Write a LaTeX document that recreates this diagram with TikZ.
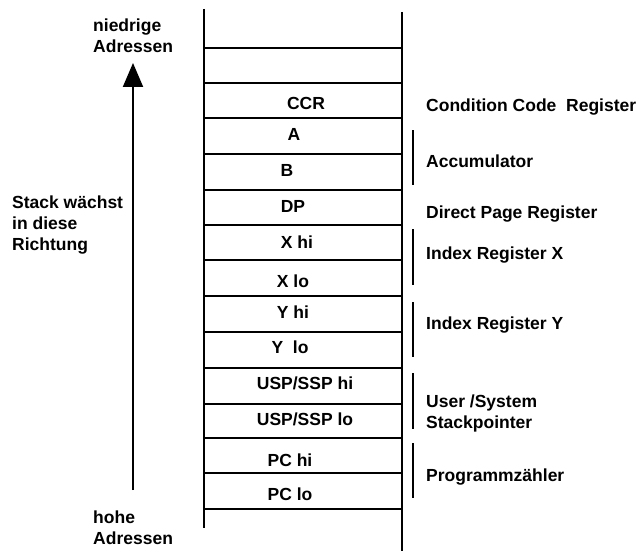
\documentclass[tikz,border=0pt]{standalone}
\usepackage{fontspec}
\setmainfont{Liberation Sans}
\usetikzlibrary{arrows.meta,positioning}

\tikzset{
  txt/.style={inner sep=0pt,font=\fontsize{17.5}{21}\selectfont\bfseries},
  wall/.style={line width=2pt},
  sep/.style={line width=1.8pt},
  brace/.style={line width=1.4pt},
  growarrow/.style={line width=2pt,-{Triangle[width=20pt,length=24pt]}}
}

\begin{document}
\begin{tikzpicture}[x=1pt,y=-1pt,line cap=butt]
  \useasboundingbox (0,0) rectangle (640,551);
  % --- Stapel ---
  \draw[wall] (204,9) -- (204,528);
  \draw[wall] (402,12) -- (402,551);
  \foreach \yy in {48,83,118,154,190,225,260,296,332,368,404,438,473,509}
    \draw[sep] (204,\yy) -- (402,\yy);
  \foreach \lbl/\xc/\yb [count=\i] in {CCR/306/110, A/294/140, B/287/176,
      DP/293/212, X hi/297/248, X lo/293/287, Y hi/293/318, Y\ \ lo/290/353,
      {USP/SSP hi}/305/389, {USP/SSP lo}/305/425, PC hi/290/466, PC lo/290/500}
    \node[txt,anchor=base] (cell\i) at (\xc,\yb) {\lbl};
  % --- Klammern rechts ---
  \foreach \ya/\yb in {130/185, 229/285, 302/357, 373/429, 443/498}
    \draw[brace] (413,\ya) -- (413,\yb);
  % --- Beschriftung rechts ---
  \node[txt,anchor=base west] (ccr)  at (426,111) {Condition Code\ \ Register};
  \node[txt,anchor=base west] (accu) at (426,167) {Accumulator};
  \node[txt,anchor=base west] (dpr)  at (426,218) {Direct Page Register};
  \node[txt,anchor=base west] (idxx) at (426,259) {Index Register X};
  \node[txt,anchor=base west] (idxy) at (426,329) {Index Register Y};
  \node[txt,anchor=west,align=left] (sp) at (426,413) {User /System\\Stackpointer};
  \node[txt,anchor=base west] (pc)   at (426,481) {Programmz\"ahler};
  % --- Wachstumsrichtung links ---
  \node[txt,anchor=west,align=left] (low)  at (93,36)   {niedrige\\Adressen};
  \node[txt,anchor=west,align=left] (grow) at (12,225.5) {Stack w\"achst\\in diese\\Richtung};
  \node[txt,anchor=west,align=left] (high) at (93,528)  {hohe\\Adressen};
  \coordinate (tail) at (133,490);
  \coordinate (head) at (133,63);
  \draw[growarrow] (tail) -- (head);
\end{tikzpicture}
\end{document}
